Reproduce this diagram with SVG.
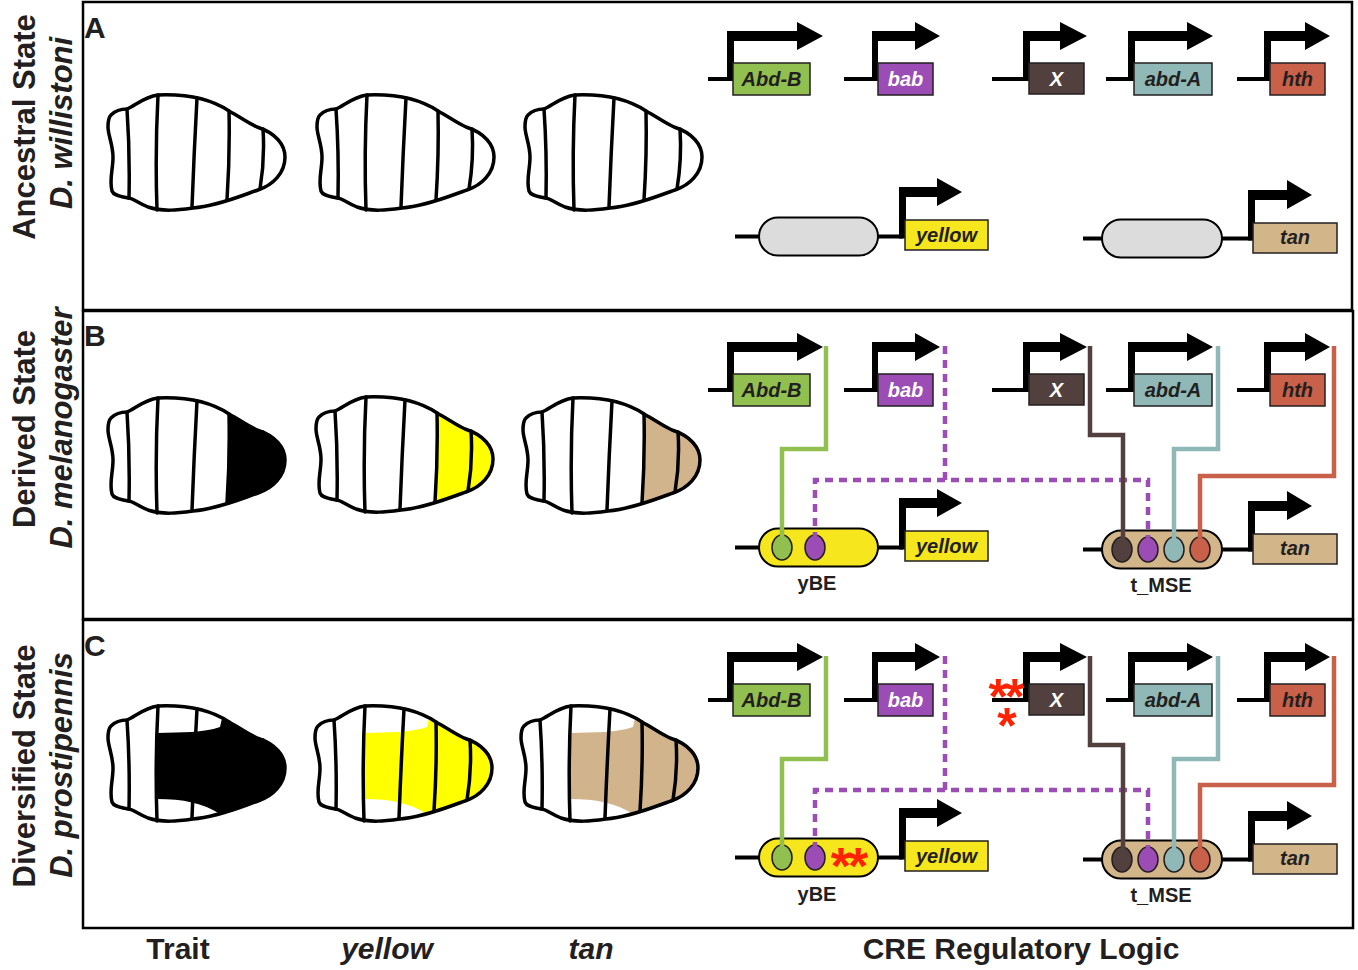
<svg xmlns="http://www.w3.org/2000/svg" xmlns:xlink="http://www.w3.org/1999/xlink" width="1358" height="970" viewBox="0 0 1358 970">
<style>
  .panel{fill:none;stroke:#000;stroke-width:2.5}
  .lab{font-family:"Liberation Sans",Arial,sans-serif;font-weight:bold;font-size:30px;fill:#231f20}
  .side{font-size:31px}
  .it{font-style:italic}
  .mid{text-anchor:middle}
  .gl{font-family:"Liberation Sans",Arial,sans-serif;font-size:20px;font-weight:bold;font-style:italic;text-anchor:middle;fill:#231f20}
  .wt{fill:#fff}
  .cre{font-family:"Liberation Sans",Arial,sans-serif;font-size:20px;font-weight:bold;text-anchor:middle;fill:#231f20}
  .base{fill:none;stroke:#000;stroke-width:4}
  .prom{fill:#000}
  .box{stroke:#231f20;stroke-width:1.5}
  .pill{stroke:#000;stroke-width:2}
  .oval{stroke:#231f20;stroke-width:1.5}
  .abd{fill:none;stroke:#000;stroke-width:3.5;stroke-linejoin:round;stroke-linecap:round}
  .link{fill:none;stroke-width:4.5}
  .dash{stroke-dasharray:8 6}
  .star{font-family:"Liberation Sans",Arial,sans-serif;font-weight:bold;fill:#ff2200;text-anchor:middle}
</style>
<defs>
  <!-- abdomen outline and tergite boundaries, local coordinates -->
  <path id="abdOut" d="M3,20 C8,15 14,14 19,14 C28,10 36,2 50,0 C75,-1 100,2 121,16 C132,22 140,28 149,32 C168,38 177,50 177,62 C177,78 165,90 150,95 C135,100 110,111 85,113 C70,115 55,117 40,112 C30,108 25,103 20,103 C12,101 6,101 4,96 C1,85 5,75 5,62 C5,50 0,40 0,32 C0,26 1,22 3,20 Z"/>
  <path id="abdSeg" d="M19,14 Q22,58 21,103 M50,0 Q47,58 49,115 M89,3 Q86,58 84,112 M121,16 Q122,60 119,105 M155,34 Q157,64 152,94"/>
  <g id="abdLines" class="abd"><use xlink:href="#abdOut"/><use xlink:href="#abdSeg"/></g>
  <clipPath id="abdClip"><use xlink:href="#abdOut"/></clipPath>
  <!-- pigment patterns -->
  <path id="posterior" d="M121,-5 L121,16 Q122,60 119,105 L119,125 L190,125 L190,-5 Z"/>
  <path id="expanded" d="M49,27 C75,26 95,27 112,21 L118,-5 L190,-5 L190,130 L118,130 L112,108 C95,97 75,93 49,93 Z"/>
</defs>

<rect width="1358" height="970" fill="#fff"/>

<!-- panel frames -->
<g id="frames">
  <rect class="panel" x="83" y="2" width="1269" height="308"/>
  <rect class="panel" x="83" y="311" width="1270" height="308"/>
  <rect class="panel" x="83" y="620" width="1270" height="308"/>
  <text class="lab" x="84" y="38">A</text>
  <text class="lab" x="84" y="346">B</text>
  <text class="lab" x="84" y="656">C</text>
</g>

<!-- row titles -->
<g id="row-titles">
  <text class="lab side mid" transform="translate(35,127) rotate(-90)">Ancestral State</text>
  <text class="lab side mid it" transform="translate(72,123) rotate(-90)">D. willistoni</text>
  <text class="lab side mid" transform="translate(35,429) rotate(-90)">Derived State</text>
  <text class="lab side mid it" transform="translate(72,428) rotate(-90)">D. melanogaster</text>
  <text class="lab side mid" transform="translate(35,766) rotate(-90)">Diversified State</text>
  <text class="lab side mid it" transform="translate(72,765) rotate(-90)">D. prostipennis</text>
</g>

<!-- column titles -->
<g id="col-titles">
  <text class="lab mid" x="178" y="959">Trait</text>
  <text class="lab mid it" x="387" y="959">yellow</text>
  <text class="lab mid it" x="591" y="959">tan</text>
  <text class="lab mid" x="1021" y="959">CRE Regulatory Logic</text>
</g>

<!-- abdomens -->
<g id="abd-A1" transform="translate(108,95)"><use xlink:href="#abdLines"/></g>
<g id="abd-A2" transform="translate(317,95)"><use xlink:href="#abdLines"/></g>
<g id="abd-A3" transform="translate(525,95)"><use xlink:href="#abdLines"/></g>

<g id="abd-B1" transform="translate(108,398)"><use xlink:href="#posterior" fill="#000" clip-path="url(#abdClip)"/><use xlink:href="#abdLines"/></g>
<g id="abd-B2" transform="translate(316,397)"><use xlink:href="#posterior" fill="#ffff00" clip-path="url(#abdClip)"/><use xlink:href="#abdLines"/></g>
<g id="abd-B3" transform="translate(523,398)"><use xlink:href="#posterior" fill="#d2b48c" clip-path="url(#abdClip)"/><use xlink:href="#abdLines"/></g>

<g id="abd-C1" transform="translate(108,706)"><use xlink:href="#expanded" fill="#000" clip-path="url(#abdClip)"/><use xlink:href="#abdLines"/></g>
<g id="abd-C2" transform="translate(315,706)"><use xlink:href="#expanded" fill="#ffff00" clip-path="url(#abdClip)"/><use xlink:href="#abdLines"/></g>
<g id="abd-C3" transform="translate(521,706)"><use xlink:href="#expanded" fill="#d2b48c" clip-path="url(#abdClip)"/><use xlink:href="#abdLines"/></g>

<!-- ===== Panel A genes ===== -->
<g id="A-abdB"><path class="base" d="M708,79H730"/><path class="prom" d="M727,81V31H797V22L823,36L797,50V41H734V81Z"/><rect class="box" x="733" y="63" width="77" height="32" fill="#92c050"/><text class="gl" x="771.5" y="86">Abd-B</text></g>
<g id="A-bab"><path class="base" d="M844,79H875"/><path class="prom" d="M872,81V31H915V22L940,36L915,50V41H878V81Z"/><rect class="box" x="878" y="63" width="55" height="32" fill="#9b4db5"/><text class="gl wt" x="905.5" y="86">bab</text></g>
<g id="A-X"><path class="base" d="M992,79H1026"/><path class="prom" d="M1023,81V31H1060V22L1087,36L1060,50V41H1030V81Z"/><rect class="box" x="1029" y="63" width="55" height="31" fill="#52403f"/><text class="gl wt" x="1056.5" y="86">X</text></g>
<g id="A-abdA"><path class="base" d="M1106,79H1131"/><path class="prom" d="M1128,81V31H1187V22L1213,36L1187,50V41H1135V81Z"/><rect class="box" x="1134" y="63" width="78" height="32" fill="#8fb8b6"/><text class="gl" x="1173" y="86">abd-A</text></g>
<g id="A-hth"><path class="base" d="M1237,79H1267"/><path class="prom" d="M1264,81V31H1305V22L1330,36L1305,50V41H1271V81Z"/><rect class="box" x="1270" y="63" width="55" height="32" fill="#c8604a"/><text class="gl" x="1297.5" y="86">hth</text></g>
<g id="A-yellow"><path class="base" d="M735,236.5H760M877,236.5H903"/><rect class="pill" x="759" y="217.5" width="119" height="38" rx="19" fill="#dcdcdc"/><path class="prom" d="M899,238.5V187H937V178L962,192L937,206V197H906V238.5Z"/><rect class="box" x="905" y="220" width="83" height="30" fill="#f5e61e"/><text class="gl" x="946.5" y="242">yellow</text></g>
<g id="A-tan"><path class="base" d="M1083,238.5H1103M1221,238.5H1252"/><rect class="pill" x="1102" y="219.5" width="120" height="38" rx="19" fill="#dcdcdc"/><path class="prom" d="M1248,240.5V190H1287V180L1312,195L1287,209V200H1255V240.5Z"/><rect class="box" x="1253" y="223" width="84" height="30" fill="#d3b58a"/><text class="gl" x="1295" y="244">tan</text></g>

<!-- ===== Panel B genes ===== -->
<g id="B-abdB" transform="translate(0,311)"><path class="base" d="M708,79H730"/><path class="prom" d="M727,81V31H797V22L823,36L797,50V41H734V81Z"/><rect class="box" x="733" y="63" width="77" height="32" fill="#92c050"/><text class="gl" x="771.5" y="86">Abd-B</text></g>
<g id="B-bab" transform="translate(0,311)"><path class="base" d="M844,79H875"/><path class="prom" d="M872,81V31H915V22L940,36L915,50V41H878V81Z"/><rect class="box" x="878" y="63" width="55" height="32" fill="#9b4db5"/><text class="gl wt" x="905.5" y="86">bab</text></g>
<g id="B-X" transform="translate(0,311)"><path class="base" d="M992,79H1026"/><path class="prom" d="M1023,81V31H1060V22L1087,36L1060,50V41H1030V81Z"/><rect class="box" x="1029" y="63" width="55" height="31" fill="#52403f"/><text class="gl wt" x="1056.5" y="86">X</text></g>
<g id="B-abdA" transform="translate(0,311)"><path class="base" d="M1106,79H1131"/><path class="prom" d="M1128,81V31H1187V22L1213,36L1187,50V41H1135V81Z"/><rect class="box" x="1134" y="63" width="78" height="32" fill="#8fb8b6"/><text class="gl" x="1173" y="86">abd-A</text></g>
<g id="B-hth" transform="translate(0,311)"><path class="base" d="M1237,79H1267"/><path class="prom" d="M1264,81V31H1305V22L1330,36L1305,50V41H1271V81Z"/><rect class="box" x="1270" y="63" width="55" height="32" fill="#c8604a"/><text class="gl" x="1297.5" y="86">hth</text></g>
<g id="B-yBE" transform="translate(0,311)"><path class="base" d="M735,236.5H760M877,236.5H903"/><rect class="pill" x="759" y="217.5" width="119" height="38" rx="19" fill="#f5e61e"/><ellipse class="oval" cx="782" cy="236.5" rx="10" ry="12.5" fill="#92c050"/><ellipse class="oval" cx="815" cy="236.5" rx="10" ry="12.5" fill="#9b4db5"/><text class="cre" x="817" y="279">yBE</text></g>
<g id="B-yellow" transform="translate(0,311)"><path class="prom" d="M899,238.5V187H937V178L962,192L937,206V197H906V238.5Z"/><rect class="box" x="905" y="220" width="83" height="30" fill="#f5e61e"/><text class="gl" x="946.5" y="242">yellow</text></g>
<g id="B-tMSE" transform="translate(0,311)"><path class="base" d="M1083,238.5H1103M1221,238.5H1252"/><rect class="pill" x="1102" y="219.5" width="120" height="38" rx="19" fill="#d3b58a"/><ellipse class="oval" cx="1122" cy="238.5" rx="10" ry="12.5" fill="#52403f"/><ellipse class="oval" cx="1148" cy="238.5" rx="10" ry="12.5" fill="#9b4db5"/><ellipse class="oval" cx="1174" cy="238.5" rx="10" ry="12.5" fill="#8fb8b6"/><ellipse class="oval" cx="1200" cy="238.5" rx="10" ry="12.5" fill="#c8604a"/><text class="cre" x="1161" y="281">t_MSE</text></g>
<g id="B-tan" transform="translate(0,311)"><path class="prom" d="M1248,240.5V190H1287V180L1312,195L1287,209V200H1255V240.5Z"/><rect class="box" x="1253" y="223" width="84" height="30" fill="#d3b58a"/><text class="gl" x="1295" y="244">tan</text></g>

<!-- ===== Panel C genes ===== -->
<g id="C-abdB" transform="translate(0,621)"><path class="base" d="M708,79H730"/><path class="prom" d="M727,81V31H797V22L823,36L797,50V41H734V81Z"/><rect class="box" x="733" y="63" width="77" height="32" fill="#92c050"/><text class="gl" x="771.5" y="86">Abd-B</text></g>
<g id="C-bab" transform="translate(0,621)"><path class="base" d="M844,79H875"/><path class="prom" d="M872,81V31H915V22L940,36L915,50V41H878V81Z"/><rect class="box" x="878" y="63" width="55" height="32" fill="#9b4db5"/><text class="gl wt" x="905.5" y="86">bab</text></g>
<g id="C-X" transform="translate(0,621)"><path class="base" d="M992,79H1026"/><path class="prom" d="M1023,81V31H1060V22L1087,36L1060,50V41H1030V81Z"/><rect class="box" x="1029" y="63" width="55" height="31" fill="#52403f"/><text class="gl wt" x="1056.5" y="86">X</text><text class="star" font-size="50" letter-spacing="-3"><tspan x="1005" y="93">**</tspan><tspan x="1007" y="122" letter-spacing="0">*</tspan></text></g>
<g id="C-abdA" transform="translate(0,621)"><path class="base" d="M1106,79H1131"/><path class="prom" d="M1128,81V31H1187V22L1213,36L1187,50V41H1135V81Z"/><rect class="box" x="1134" y="63" width="78" height="32" fill="#8fb8b6"/><text class="gl" x="1173" y="86">abd-A</text></g>
<g id="C-hth" transform="translate(0,621)"><path class="base" d="M1237,79H1267"/><path class="prom" d="M1264,81V31H1305V22L1330,36L1305,50V41H1271V81Z"/><rect class="box" x="1270" y="63" width="55" height="32" fill="#c8604a"/><text class="gl" x="1297.5" y="86">hth</text></g>
<g id="C-yBE" transform="translate(0,621)"><path class="base" d="M735,236.5H760M877,236.5H903"/><rect class="pill" x="759" y="217.5" width="119" height="38" rx="19" fill="#f5e61e"/><ellipse class="oval" cx="782" cy="236.5" rx="10" ry="12.5" fill="#92c050"/><ellipse class="oval" cx="815" cy="236.5" rx="10" ry="12.5" fill="#9b4db5"/><text class="star" x="848" y="263" font-size="52" letter-spacing="-3">**</text><text class="cre" x="817" y="280">yBE</text></g>
<g id="C-yellow" transform="translate(0,621)"><path class="prom" d="M899,238.5V187H937V178L962,192L937,206V197H906V238.5Z"/><rect class="box" x="905" y="220" width="83" height="30" fill="#f5e61e"/><text class="gl" x="946.5" y="242">yellow</text></g>
<g id="C-tMSE" transform="translate(0,621)"><path class="base" d="M1083,238.5H1103M1221,238.5H1252"/><rect class="pill" x="1102" y="219.5" width="120" height="38" rx="19" fill="#d3b58a"/><ellipse class="oval" cx="1122" cy="238.5" rx="10" ry="12.5" fill="#52403f"/><ellipse class="oval" cx="1148" cy="238.5" rx="10" ry="12.5" fill="#9b4db5"/><ellipse class="oval" cx="1174" cy="238.5" rx="10" ry="12.5" fill="#8fb8b6"/><ellipse class="oval" cx="1200" cy="238.5" rx="10" ry="12.5" fill="#c8604a"/><text class="cre" x="1161" y="281">t_MSE</text></g>
<g id="C-tan" transform="translate(0,621)"><path class="prom" d="M1248,240.5V190H1287V180L1312,195L1287,209V200H1255V240.5Z"/><rect class="box" x="1253" y="223" width="84" height="30" fill="#d3b58a"/><text class="gl" x="1295" y="244">tan</text></g>

<!-- regulatory connectors -->
<g id="connectors">
  <path class="link" stroke="#92c050" d="M826,346V449H782V540"/>
  <path class="link dash" stroke="#9b4db5" d="M945,346V480M815,540V480H1148V542"/>
  <path class="link" stroke="#52403f" d="M1090,346V435H1123V542"/>
  <path class="link" stroke="#8fb8b6" d="M1218,346V449H1174V542"/>
  <path class="link" stroke="#c8604a" d="M1334,346V476H1200V542"/>

  <path class="link" stroke="#92c050" d="M826,656V759H782V850"/>
  <path class="link dash" stroke="#9b4db5" d="M945,656V790M815,850V790H1148V852"/>
  <path class="link" stroke="#52403f" d="M1090,656V745H1123V852"/>
  <path class="link" stroke="#8fb8b6" d="M1218,656V759H1174V852"/>
  <path class="link" stroke="#c8604a" d="M1334,656V785H1200V852"/>
</g>
</svg>
